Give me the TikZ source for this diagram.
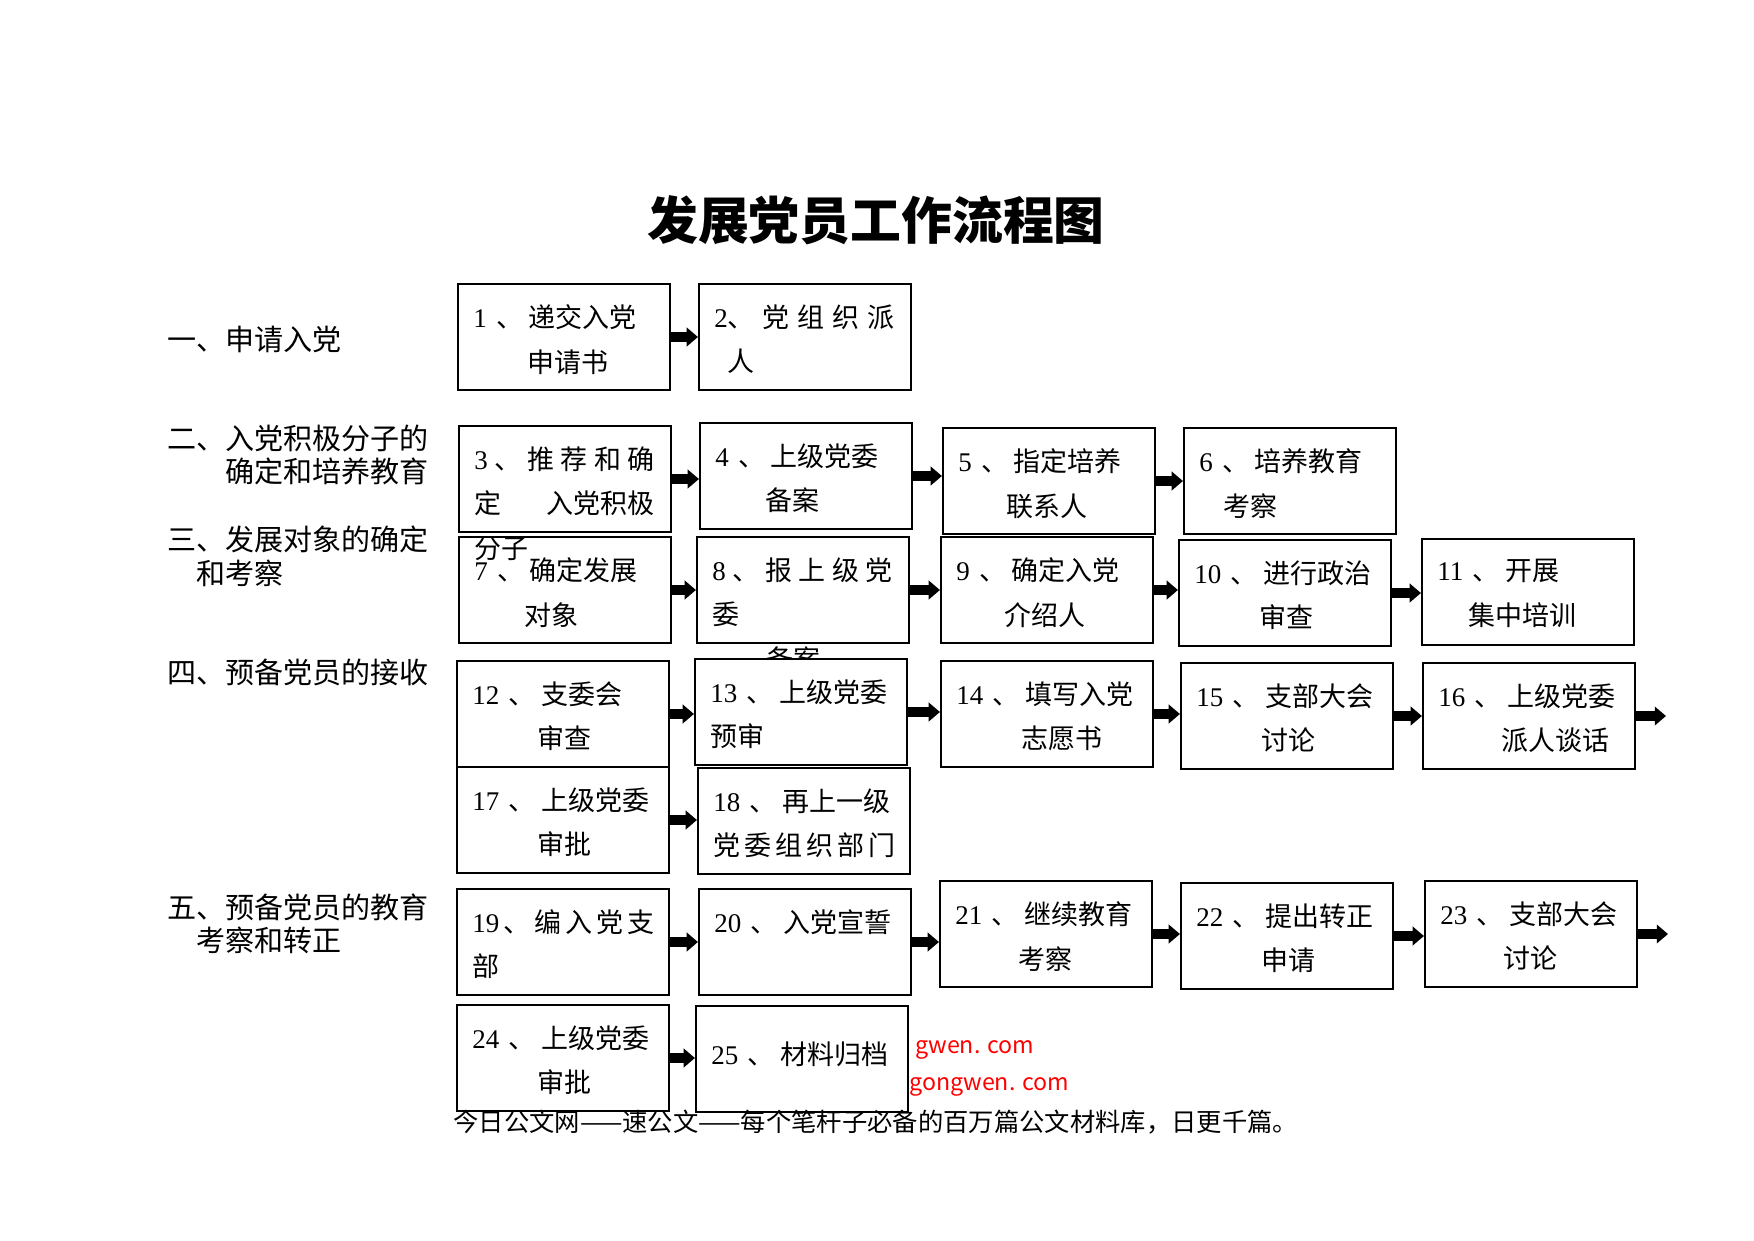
\documentclass[tikz,border=0pt]{standalone}
\usepackage{fontspec}
\setmainfont{Liberation Serif}
\newfontfamily\cjk{Noto Sans CJK SC}
\usetikzlibrary{arrows.meta,calc}

\newcommand\dun{\hspace{.35em}、\hspace{.2em}}

\tikzset{
  stepbox/.style={draw, line width=1pt, fill=white, minimum width=35.9mm, minimum height=17.9mm, inner sep=0pt},
  steptext/.style={anchor=north west, inner sep=0pt, align=left, font=\cjk\fontsize{13}{21.5}\selectfont},
  stage/.style={anchor=west, inner sep=0pt, align=left, font=\cjk\fontsize{14}{16.2}\selectfont},
  flow/.style={line width=1.7mm, -{Triangle[length=1.9mm,width=3.1mm]}},
}

\begin{document}
\begin{tikzpicture}[x=0.16933mm, y=-0.16933mm]
    \useasboundingbox (0,0) rectangle (1754,1240);
    \fill [white] (0,0) rectangle (1754,1240);

    \node (title) at (876,220) [font=\cjk\bfseries\fontsize{24.5}{28}\selectfont] {发展党员工作流程图};

    % stages
    \node (s1) at (167,339) [stage] {一、申请入党};
    \node (s2) at (167,455) [stage] {二、入党积极分子的\\\hspace*{2em}确定和培养教育};
    \node (s3) at (167,556.5) [stage] {三、发展对象的确定\\\hspace*{1em}和考察};
    \node (s4) at (167,672) [stage] {四、预备党员的接收};
    \node (s5) at (167,924) [stage] {五、预备党员的教育\\\hspace*{1em}考察和转正};

    % rows 1-3
    \node (b1) at (564,337) [stepbox] {};
    \node (b2) at (805,337) [stepbox] {};
    \node (b3) at (565,479) [stepbox] {};
    \node (b4) at (806,476) [stepbox] {};
    \node (b5) at (1049,481) [stepbox] {};
    \node (b6) at (1290,481) [stepbox] {};
    \node (b7) at (565,590) [stepbox] {};
    \node (b8) at (803,590) [stepbox] {};
    \node (b9) at (1047,590) [stepbox] {};
    \node (b10) at (1285,593) [stepbox] {};
    \node (b11) at (1528,592) [stepbox] {};

    \node (t1) at ($(b1.north west)+(16,21)$) [steptext] {\textrm{1}\dun 递交入党\\\hspace*{2em}申请书};
    \node (t2) at ($(b2.north west)+(16,21)$) [steptext] {\makebox[30.5mm][s]{\textrm{2}、 党 组 织 派}\\\hspace*{.5em}人};
    \node (t3) at ($(b3.north west)+(16,21)$) [steptext] {\makebox[30.5mm][s]{\textrm{3} 、 推 荐 和 确}\\\makebox[30.5mm][s]{定 入党积极}\\分子};
    \node (t4) at ($(b4.north west)+(16,21)$) [steptext] {\textrm{4}\dun 上级党委\\\hspace*{1.85em}备案};
    \node (t5) at ($(b5.north west)+(16,21)$) [steptext] {\textrm{5}\dun 指定培养\\\hspace*{1.8em}联系人};
    \node (t6) at ($(b6.north west)+(16,21)$) [steptext] {\textrm{6}\dun 培养教育\\\hspace*{.9em}考察};
    \node (t7) at ($(b7.north west)+(16,21)$) [steptext] {\textrm{7}\dun 确定发展\\\hspace*{1.85em}对象};
    \node (t8) at ($(b8.north west)+(16,21)$) [steptext] {\makebox[30.5mm][s]{\textrm{8} 、 报 上 级 党}\\委\\\hspace*{2em}备案};
    \node (t9) at ($(b9.north west)+(16,21)$) [steptext] {\textrm{9}\dun 确定入党\\\hspace*{1.8em}介绍人};
    \node (t10) at ($(b10.north west)+(16,21)$) [steptext] {\textrm{10}\dun 进行政治\\\hspace*{2.4em}审查};
    \node (t11) at ($(b11.north west)+(16,21)$) [steptext] {\textrm{11}\dun 开展\\\hspace*{1.15em}集中培训};

    % rows 4-5
    \node (b12) at (563,714) [stepbox] {};
    \node (b13) at (801,712) [stepbox] {};
    \node (b14) at (1047,714) [stepbox] {};
    \node (b15) at (1287,716) [stepbox] {};
    \node (b16) at (1529,716) [stepbox] {};
    \node (b17) at (563,820) [stepbox] {};
    \node (b18) at (804,821) [stepbox] {};
    \node (b19) at (563,942) [stepbox] {};
    \node (b20) at (805,942) [stepbox] {};
    \node (b21) at (1046,934) [stepbox] {};
    \node (b22) at (1287,936) [stepbox] {};
    \node (b23) at (1531,934) [stepbox] {};
    \node (b24) at (563,1058) [stepbox] {};
    \node (b25) at (802,1059) [stepbox] {};

    \node (t12) at ($(b12.north west)+(16,21)$) [steptext] {\textrm{12}\dun 支委会\\\hspace*{2.4em}审查};
    \node (t13) at ($(b13.north west)+(16,21)$) [steptext] {\textrm{13}\dun 上级党委\\预审};
    \node (t14) at ($(b14.north west)+(16,21)$) [steptext] {\textrm{14}\dun 填写入党\\\hspace*{2.4em}志愿书};
    \node (t15) at ($(b15.north west)+(16,21)$) [steptext] {\textrm{15}\dun 支部大会\\\hspace*{2.4em}讨论};
    \node (t16) at ($(b16.north west)+(16,21)$) [steptext] {\textrm{16}\dun 上级党委\\\hspace*{2.35em}派人谈话};
    \node (t17) at ($(b17.north west)+(16,21)$) [steptext] {\textrm{17}\dun 上级党委\\\hspace*{2.4em}审批};
    \node (t18) at ($(b18.north west)+(16,21)$) [steptext] {\textrm{18}\dun 再上一级\\\makebox[30.5mm][s]{党 委 组 织 部 门}};
    \node (t19) at ($(b19.north west)+(16,21)$) [steptext] {\makebox[30.5mm][s]{\textrm{19} 、 编 入 党 支}\\部};
    \node (t20) at ($(b20.north west)+(16,21)$) [steptext] {\textrm{20}\dun 入党宣誓};
    \node (t21) at ($(b21.north west)+(16,21)$) [steptext] {\textrm{21}\dun 继续教育\\\hspace*{2.35em}考察};
    \node (t22) at ($(b22.north west)+(16,21)$) [steptext] {\textrm{22}\dun 提出转正\\\hspace*{2.4em}申请};
    \node (t23) at ($(b23.north west)+(16,21)$) [steptext] {\textrm{23}\dun 支部大会\\\hspace*{2.35em}讨论};
    \node (t24) at ($(b24.north west)+(16,21)$) [steptext] {\textrm{24}\dun 上级党委\\\hspace*{2.4em}审批};
    \node (t25) at ($(b25.north west)+(16,36)$) [steptext] {\textrm{25}\dun 材料归档};

    % arrows
    \coordinate (o16) at (1666,716);
    \coordinate (o23) at (1668,934);
    \draw [flow] (b1.east) -- (b1.east -| b2.west);
    \draw [flow] (b3.east) -- (b3.east -| b4.west);
    \draw [flow] (b4.east) -- (b4.east -| b5.west);
    \draw [flow] (b5.east) -- (b5.east -| b6.west);
    \draw [flow] (b7.east) -- (b7.east -| b8.west);
    \draw [flow] (b8.east) -- (b8.east -| b9.west);
    \draw [flow] (b9.east) -- (b9.east -| b10.west);
    \draw [flow] (b10.east) -- (b10.east -| b11.west);
    \draw [flow] (b12.east) -- (b12.east -| b13.west);
    \draw [flow] (b13.east) -- (b13.east -| b14.west);
    \draw [flow] (b14.east) -- (b14.east -| b15.west);
    \draw [flow] (b15.east) -- (b15.east -| b16.west);
    \draw [flow] (b16.east) -- (b16.east -| o16);
    \draw [flow] (b17.east) -- (b17.east -| b18.west);
    \draw [flow] (b19.east) -- (b19.east -| b20.west);
    \draw [flow] (b20.east) -- (b20.east -| b21.west);
    \draw [flow] (b21.east) -- (b21.east -| b22.west);
    \draw [flow] (b22.east) -- (b22.east -| b23.west);
    \draw [flow] (b23.east) -- (b23.east -| o23);
    \draw [flow] (b24.east) -- (b24.east -| b25.west);

    % footer
    \node (wm1) at (915,1050) [anchor=west, inner sep=0pt, text=red, font=\cjk\fontsize{11.2}{14}\selectfont] {gwen. com};
    \node (wm2) at (909,1087) [anchor=west, inner sep=0pt, text=red, font=\cjk\fontsize{11.2}{14}\selectfont] {gongwen. com};
    \node (foot) at (453,1122) [anchor=west, inner sep=0pt, font=\cjk\fontsize{12.2}{14}\selectfont] {今日公文网——速公文——每个笔杆子必备的百万篇公文材料库，日更千篇。};
\end{tikzpicture}
\end{document}
